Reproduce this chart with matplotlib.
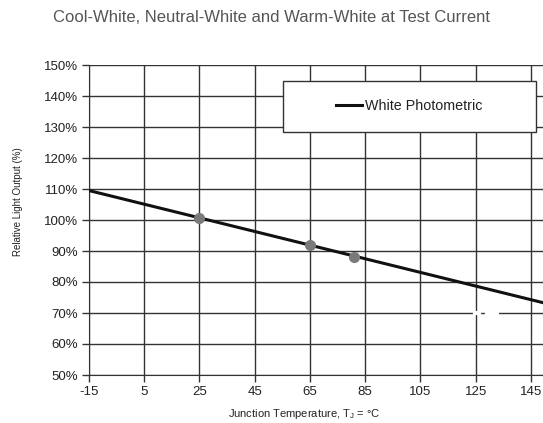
import numpy as np
import matplotlib.pyplot as plt
from matplotlib.patches import Rectangle

plt.rcParams['font.family'] = ['Liberation Sans', 'DejaVu Sans']
plt.rcParams['axes.unicode_minus'] = False

# data
line_temp = [-15, 150]
line_output = [109.5, 73.2]
point_temp = [25, 65, 81]
point_output = [100.6, 91.9, 88.2]

x_ticks = [-15, 5, 25, 45, 65, 85, 105, 125, 145]
y_ticks = [50, 60, 70, 80, 90, 100, 110, 120, 130, 140, 150]

fig = plt.figure(figsize=(5.43, 4.23), dpi=100)
ax = fig.add_axes([89/543, 1 - 375/423, 454/543, 310/423])

ax.set_xlim(-15, 149.4)
ax.set_ylim(50, 150)
ax.set_xticks(x_ticks)
ax.set_yticks(y_ticks)
ax.set_yticklabels([f'{v}%' for v in y_ticks])
ax.grid(True, color='#333333', linewidth=1.0)
ax.set_axisbelow(True)
ax.tick_params(direction='out', length=5, width=1, color='#333333',
               labelsize=9.5, labelcolor='#222222', pad=3)
ax.spines['right'].set_visible(False)
ax.spines['top'].set_visible(False)
for s in ['left', 'bottom']:
    ax.spines[s].set_color('#333333')

# white artifact on the 70% gridline
ax.plot([124.8, 126.2], [70, 70], color='white', linewidth=3, zorder=2)
ax.plot([129.1, 132.7], [70, 70], color='white', linewidth=3, zorder=2)

ax.plot(line_temp, line_output, color='#111111', linewidth=2.2,
        label='White Photometric', zorder=3, clip_on=True)
ax.plot(point_temp, point_output, 'o', color='#7a7a7a', markersize=7, zorder=4)

# legend box
ax.add_patch(Rectangle((0.427, 0.784), 0.558, 0.164, transform=ax.transAxes,
                       facecolor='white', edgecolor='#333333', linewidth=1, zorder=5))
leg = ax.legend(loc='center left', bbox_to_anchor=(0.543, 0.868), frameon=False,
                fontsize=10.3, handlelength=1.85, handletextpad=0.2,
                borderpad=0, borderaxespad=0)
leg.set_zorder(6)
for t in leg.get_texts():
    t.set_color('#222222')

fig.text(0.5, 1 - 18/423, 'Cool-White, Neutral-White and Warm-White at Test Current',
         ha='center', va='center', fontsize=12, color='#555555')
fig.text(18/543, 1 - 202/423, 'Relative Light Output (%)', rotation=90,
         ha='center', va='center', fontsize=7, color='#222222')
fig.text(304/543, 1 - 414/423, 'Junction Temperature, T$_\\mathregular{J}$ = °C',
         ha='center', va='center', fontsize=8, color='#222222')

fig.savefig('out.png', dpi=100)
